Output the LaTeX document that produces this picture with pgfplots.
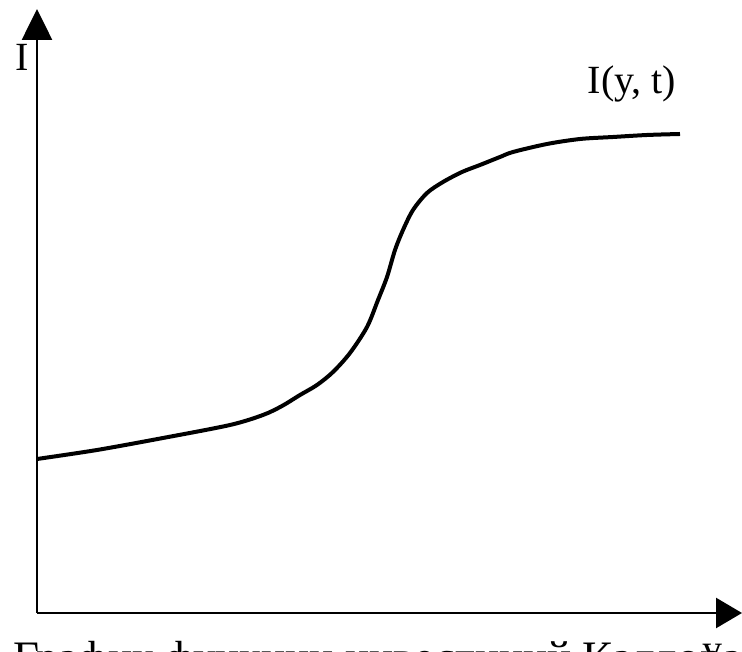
\documentclass[border=0pt]{standalone}
\usepackage{fontspec}
\setmainfont{Liberation Serif}
\usepackage{pgfplots}
\pgfplotsset{compat=1.18}
\usetikzlibrary{arrows.meta}

% curve, in pixels from the origin of the axes
\pgfplotstableread{
x   y
0   154
60  163
126 175
193 188
226 198
245 207
263 218
280 228
296 241
313 260
330 286
341 313
350 336
358 363
366 383
376 403
390 420
406 431
425 441
443 448
463 456
476 461
510 469
543 474
576 476
610 478
643 479
}\kaldor

\begin{document}
\begin{tikzpicture}
\begin{axis}[
    scale only axis,
    width=705pt, height=604pt,
    xmin=0, xmax=705, ymin=0, ymax=604,
    axis lines=left,
    axis line style={line width=2.6pt},
    x axis line style={-{Triangle[length=26pt,width=30pt]}},
    y axis line style={-{Triangle[length=31pt,width=30pt]}},
    xtick=\empty, ytick=\empty,
    clip=false,
]
\addplot[line width=4pt, smooth, tension=0.5, black] table {\kaldor};

\node[font=\fontsize{40}{44}\selectfont] at (axis cs:-15,556) {I};
\node[font=\fontsize{40}{44}\selectfont] at (axis cs:595,529) {I(y, t)};
\node[font=\fontsize{40}{44}\selectfont, anchor=base] at (axis cs:675,-50) {y};
\node[font=\fontsize{45}{48}\selectfont, anchor=base west, inner sep=0pt]
    at (axis cs:-24,-60) {График функции инвестиций Калдора};

\coordinate (bl) at (axis cs:-37,-39);
\coordinate (tr) at (axis cs:705,613);
\end{axis}
\pgfresetboundingbox
\path[use as bounding box] (bl) rectangle (tr);
\end{tikzpicture}
\end{document}
